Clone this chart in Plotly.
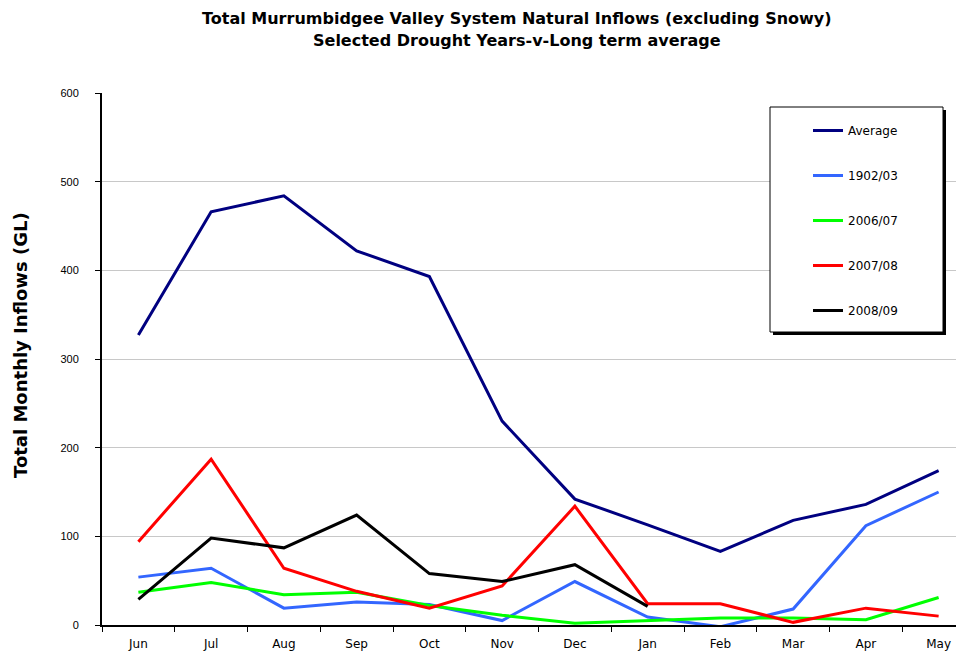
import plotly.graph_objects as go

months = ["Jun", "Jul", "Aug", "Sep", "Oct", "Nov", "Dec", "Jan", "Feb", "Mar", "Apr", "May"]
average = [327, 466, 484, 422, 393, 230, 142, 113, 83, 118, 136, 174]
y1902 = [54, 64, 19, 26, 23, 5, 49, 9, -2, 18, 112, 150]
y2006 = [37, 48, 34, 37, 22, 11, 2, 5, 8, 8, 6, 31]
y2007 = [94, 187, 64, 38, 19, 44, 134, 24, 24, 3, 19, 10]
y2008 = [29, 98, 87, 124, 58, 49, 68, 21]

series = [
    ("Average", average, "#000080"),
    ("1902/03", y1902, "#3366FF"),
    ("2006/07", y2006, "#00FF00"),
    ("2007/08", y2007, "#FF0000"),
    ("2008/09", y2008, "#000000"),
]

fig = go.Figure()
for i, (name, vals, col) in enumerate(series):
    fig.add_trace(go.Scatter(
        x=months[:len(vals)], y=vals, name=name, mode="lines",
        line=dict(color=col, width=3), legendgroup=str(i),
    ))

FONT = "Liberation Sans, Arial, sans-serif"
WIDE = "DejaVu Sans, sans-serif"
O = 8  # page body margin offset
EXTRA = 8  # plot area runs past the right edge of the window, as in the original
W, H = 964 - O + EXTRA, 654 - O
SL, ST, SB = 102, 93, 625
L = SL - O
T = ST - O
B = 654 - SB
pw = W - L
ph = H - T - B

def px_x(p):
    return (p - SL) / pw

def px_y(p):
    return (SB - p) / ph

fig.update_layout(
    width=W, height=H,
    margin=dict(l=L, r=0, t=T, b=B, autoexpand=False),
    paper_bgcolor="white", plot_bgcolor="white",
    font=dict(family=FONT, size=12, color="black"),
    showlegend=True,
    legend=dict(
        x=px_x(808), y=px_y(116), xanchor="left", yanchor="top",
        bgcolor="rgba(0,0,0,0)", borderwidth=0,
        tracegroupgap=26, font=dict(size=12, family=WIDE),
    ),
    xaxis=dict(
        type="category", categoryorder="array", categoryarray=months,
        range=[-0.5, -0.5 + pw / 72.75], automargin=False,
        showgrid=False, showline=True, linecolor="black", linewidth=2,
        ticks="outside", tickson="boundaries", ticklen=5, tickcolor="black", tickwidth=1,
        tickfont=dict(size=12, family=WIDE), zeroline=False, ticklabelstandoff=7,
    ),
    yaxis=dict(
        range=[0, 600], tickvals=[0, 100, 200, 300, 400, 500, 600], automargin=False,
        showgrid=True, gridcolor="#c8c8c8", gridwidth=1,
        showline=True, linecolor="black", linewidth=2,
        ticks="outside", ticklen=5, tickcolor="black", tickwidth=1,
        tickfont=dict(size=11), zeroline=False, ticklabelstandoff=14,
    ),
    shapes=[
        dict(type="rect", xref="paper", yref="paper",
             x0=px_x(773), x1=px_x(946), y0=px_y(335), y1=px_y(110),
             fillcolor="black", line=dict(width=0), layer="above"),
        dict(type="rect", xref="paper", yref="paper",
             x0=px_x(770), x1=px_x(943), y0=px_y(332), y1=px_y(107),
             fillcolor="white", line=dict(color="black", width=1), layer="above"),
    ],
    annotations=[
        dict(text="<b>Total Murrumbidgee Valley System Natural Inflows (excluding Snowy)</b>",
             xref="paper", yref="paper", x=px_x(517), y=px_y(18), showarrow=False,
             xanchor="center", yanchor="middle", font=dict(size=16, family=WIDE)),
        dict(text="<b>Selected Drought Years-v-Long term average</b>",
             xref="paper", yref="paper", x=px_x(517), y=px_y(41), showarrow=False,
             xanchor="center", yanchor="middle", font=dict(size=16, family=WIDE)),
        dict(text="<b>Total Monthly Inflows (GL)</b>",
             xref="paper", yref="paper", x=px_x(20), y=px_y(345), showarrow=False,
             xanchor="center", yanchor="middle", textangle=-90, font=dict(size=18, family=WIDE)),
    ],
)

fig.write_html("out.html")
